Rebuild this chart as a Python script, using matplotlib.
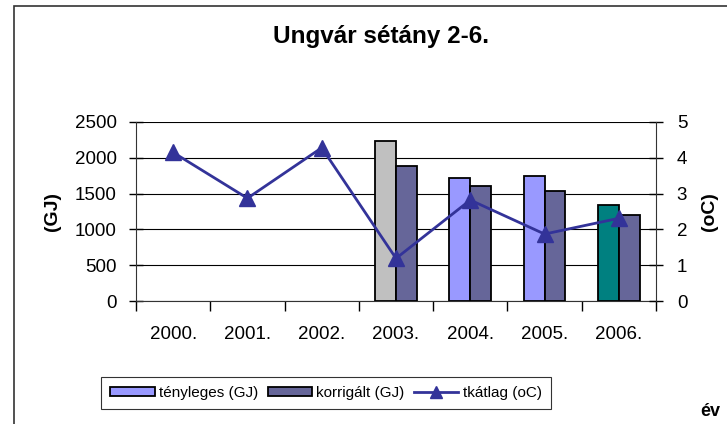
import matplotlib.pyplot as plt
import numpy as np
from matplotlib.patches import Rectangle, Patch
from matplotlib.lines import Line2D

plt.rcParams['font.family'] = ['Liberation Sans', 'DejaVu Sans']

evek = ['2000.', '2001.', '2002.', '2003.', '2004.', '2005.', '2006.']
tenyleges = [np.nan, np.nan, np.nan, 2235, 1718, 1750, 1337]
korrigalt = [np.nan, np.nan, np.nan, 1890, 1611, 1541, 1197]
tkatlag = [4.15, 2.87, 4.28, 1.19, 2.82, 1.87, 2.31]

# szinek az Excel-es abrahoz
szin_teny = ['#9999FF', '#9999FF', '#9999FF', '#C0C0C0', '#9999FF', '#9999FF', '#008080']
szin_korr = '#666699'
szin_vonal = '#333399'

fig = plt.figure(figsize=(7.27, 4.24), dpi=100)
fig.patches.append(Rectangle((14 / 727, -0.1), 1.1, 1.1 - 6 / 424, transform=fig.transFigure,
                             fill=False, edgecolor='#333333', linewidth=1.2))

ax = fig.add_axes([136 / 727, 1 - 301 / 424, 520 / 727, 179 / 424])
x = np.arange(len(evek))
w = 0.28
ax.bar(x - w / 2, tenyleges, w, color=szin_teny, edgecolor='black', linewidth=1.3, zorder=3)
ax.bar(x + w / 2, korrigalt, w, color=szin_korr, edgecolor='black', linewidth=1.3, zorder=3)
ax.set_xlim(-0.5, 6.5)
ax.set_ylim(0, 2500)
ax.set_yticks(range(0, 2501, 500))
ax.yaxis.grid(True, color='black', linewidth=0.8)
ax.set_axisbelow(True)
ax.set_xticks(x)
ax.set_xticklabels(evek, fontsize=13.5)
ax.set_xticks(np.arange(-0.5, 7, 1), minor=True)
ax.tick_params(axis='x', which='major', length=0, pad=18)
ax.tick_params(axis='x', which='minor', length=7, direction='out', width=1)
ax.tick_params(axis='y', labelsize=13.5, direction='inout', length=10, width=1, pad=9)
ax.spines['top'].set_visible(False)
ax.spines['right'].set_visible(False)
ax.spines['left'].set_color('#333333')
ax.spines['bottom'].set_color('#333333')
ax.set_ylabel('(GJ)', fontsize=14, fontweight='bold', labelpad=10)

ax2 = ax.twinx()
ax2.plot(x, tkatlag, color=szin_vonal, linewidth=2, marker='^', markersize=11, zorder=5)
ax2.set_ylim(0, 5)
ax2.set_yticks(range(0, 6))
ax2.tick_params(axis='y', labelsize=13.5, direction='inout', length=10, width=1, pad=10)
for s in ['top', 'left', 'bottom']:
    ax2.spines[s].set_visible(False)
ax2.spines['right'].set_color('#333333')
ax2.set_ylabel('(oC)', fontsize=14, fontweight='bold', labelpad=10)

fig.text(381 / 727, 1 - 37 / 424, 'Ungvár sétány 2-6.', fontsize=17.5, fontweight='bold',
         ha='center', va='center')

kezek = [Patch(facecolor='#9999FF', edgecolor='black', linewidth=1.3),
         Patch(facecolor=szin_korr, edgecolor='black', linewidth=1.3),
         Line2D([], [], color=szin_vonal, linewidth=2, marker='^', markersize=9)]
leg = fig.legend(kezek, ['tényleges (GJ)', 'korrigált (GJ)', 'tkátlag (oC)'],
                 loc='center', bbox_to_anchor=(326 / 727, 1 - 393 / 424), ncol=3,
                 fontsize=11, frameon=True, fancybox=False, edgecolor='black',
                 handlelength=2.9, handleheight=0.6, handletextpad=0.3,
                 columnspacing=0.6, borderpad=0.6)
leg.get_frame().set_linewidth(0.8)

fig.text(710 / 727, 1 - 411 / 424, 'év', fontsize=13, fontweight='bold',
         ha='center', va='center')

fig.savefig('out.png', dpi=100)
